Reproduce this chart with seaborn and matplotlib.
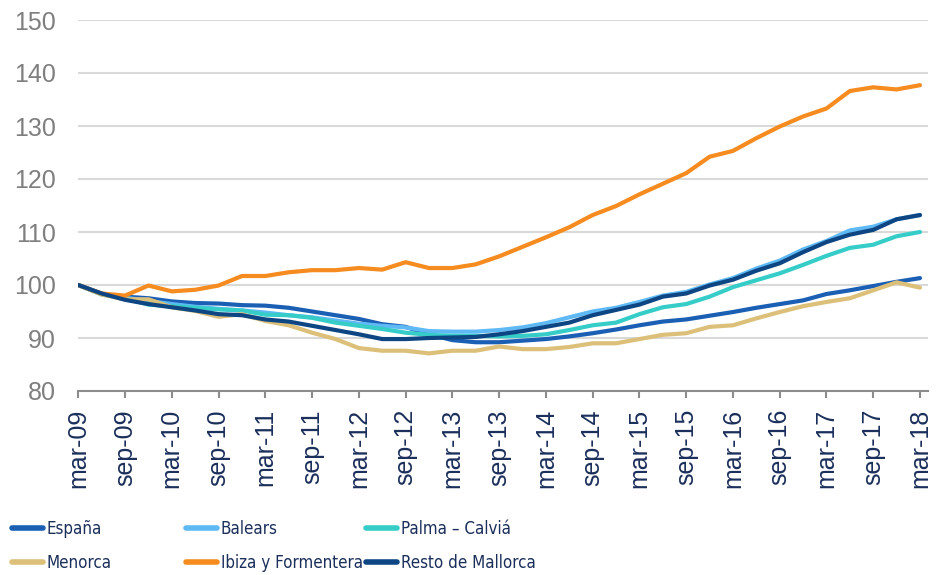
"""
Índice de precios de vivienda (mar-09 = 100) por zonas de Baleares frente a España
"""

import matplotlib
matplotlib.use("Agg")
import matplotlib.pyplot as plt
from matplotlib import font_manager
import numpy as np
import pandas as pd
import seaborn as sns

# Trimestres mar-09 .. mar-18 (37 observaciones)
meses = ["mar", "jun", "sep", "dic"]
trimestres = [f"{meses[i % 4]}-{(9 + i // 4):02d}" for i in range(37)]

espana = [100.0, 98.3, 97.8, 97.5, 96.9, 96.6, 96.5, 96.2, 96.1, 95.7, 95.0, 94.3, 93.6,
          92.6, 92.1, 90.7, 89.6, 89.2, 89.2, 89.5, 89.8, 90.3, 90.9, 91.6, 92.4, 93.1,
          93.5, 94.2, 94.9, 95.7, 96.4, 97.1, 98.3, 99.0, 99.8, 100.6, 101.3]
balears = [100.0, 98.3, 97.6, 97.0, 96.4, 95.9, 95.5, 95.2, 94.8, 94.3, 93.9, 93.3, 92.7,
           92.3, 92.0, 91.3, 91.2, 91.2, 91.5, 92.0, 92.8, 93.9, 95.0, 95.7, 96.8, 98.0,
           98.7, 100.1, 101.3, 103.1, 104.6, 106.7, 108.3, 110.3, 111.0, 112.4, 113.2]
palma = [100.0, 98.2, 97.5, 96.3, 96.0, 95.7, 95.4, 95.2, 94.4, 94.3, 93.8, 92.9, 92.3,
         91.7, 91.0, 90.6, 90.4, 90.4, 90.3, 90.4, 90.7, 91.5, 92.4, 92.9, 94.5, 95.8,
         96.4, 97.8, 99.6, 100.9, 102.2, 103.8, 105.5, 107.0, 107.6, 109.2, 110.0]
menorca = [100.0, 98.2, 97.3, 97.3, 95.8, 95.1, 94.0, 94.5, 93.2, 92.4, 91.0, 89.8, 88.1,
           87.6, 87.6, 87.1, 87.6, 87.6, 88.4, 87.9, 87.9, 88.3, 89.0, 89.0, 89.8, 90.6,
           90.9, 92.1, 92.4, 93.7, 94.9, 96.0, 96.8, 97.5, 99.0, 100.5, 99.5]
ibiza = [100.0, 98.4, 98.0, 99.9, 98.8, 99.1, 99.9, 101.7, 101.7, 102.4, 102.8, 102.8, 103.2,
         102.9, 104.3, 103.2, 103.2, 103.9, 105.4, 107.2, 109.0, 110.9, 113.2, 114.9, 117.1,
         119.1, 121.1, 124.2, 125.3, 127.7, 129.9, 131.8, 133.3, 136.6, 137.3, 136.9, 137.7]
resto = [100.0, 98.4, 97.2, 96.4, 95.8, 95.2, 94.5, 94.3, 93.5, 93.1, 92.3, 91.5, 90.7,
         89.8, 89.8, 90.0, 90.1, 90.2, 90.7, 91.3, 92.1, 92.9, 94.3, 95.3, 96.3, 97.8,
         98.4, 99.9, 101.0, 102.7, 104.1, 106.2, 108.1, 109.5, 110.4, 112.4, 113.2]

series = {
    "España": espana,
    "Balears": balears,
    "Palma – Calviá": palma,
    "Menorca": menorca,
    "Ibiza y Formentera": ibiza,
    "Resto de Mallorca": resto,
}
colores = {
    "España": "#1a5fb4",
    "Balears": "#5fb9f4",
    "Palma – Calviá": "#36cdc9",
    "Menorca": "#dcc07a",
    "Ibiza y Formentera": "#f68b1f",
    "Resto de Mallorca": "#0d4683",
}

# Formato largo para seaborn
df = pd.concat(
    [pd.DataFrame({"t": np.arange(len(v)), "indice": v, "serie": k}) for k, v in series.items()],
    ignore_index=True,
)

sns.set_style("white")
plt.rcParams["font.family"] = ["Liberation Sans", "DejaVu Sans"]

fig = plt.figure(figsize=(9.36, 5.75), dpi=100)
ax = fig.add_axes([78.3 / 936, 1 - 391 / 575, (927.7 - 78.3) / 936, (391 - 20) / 575])

sns.lineplot(data=df, x="t", y="indice", hue="serie", palette=colores,
             hue_order=list(series.keys()), linewidth=3.0, ax=ax, legend=False)

ax.set_xlim(0, 36.33)
ax.set_ylim(80, 150)
ax.set_yticks(np.arange(80, 151, 10))
ax.set_xticks(np.arange(0, 37, 2))
ax.set_xticklabels(trimestres[::2], rotation=90)
ax.set_xlabel("")
ax.set_ylabel("")

ax.yaxis.grid(True, color="#d9d9d9", linewidth=1.5)
ax.set_axisbelow(True)
for s in ["left", "top", "right"]:
    ax.spines[s].set_visible(False)
ax.spines["bottom"].set_color("#8c8c8c")
ax.spines["bottom"].set_linewidth(1.5)

ax.tick_params(axis="y", length=0, pad=16, labelsize=18, labelcolor="#7f7f7f")
ax.tick_params(axis="x", bottom=True, length=5, width=1.5, color="#8c8c8c",
               pad=8, labelsize=18, labelcolor="#1b2f5b")

# Fuente estrecha para la leyenda si existe
condensadas = [f for f in font_manager.fontManager.ttflist
               if f.name.startswith("DejaVu Sans") and "ondensed" in f.fname
               and f.weight in (400, "normal") and f.style == "normal"]
if condensadas:
    prop_leyenda = font_manager.FontProperties(fname=condensadas[0].fname, size=12.2)
else:
    prop_leyenda = font_manager.FontProperties(family=["Liberation Sans"], size=11.5)

# Leyenda en tres columnas colocadas a mano
handles = {k: plt.Line2D([], [], color=c, linewidth=4) for k, c in colores.items()}
columnas = [(["España", "Menorca"], 12), (["Balears", "Ibiza y Formentera"], 186),
            (["Palma – Calviá", "Resto de Mallorca"], 366)]
for nombres, x0 in columnas:
    fig.legend([handles[n] for n in nombres], nombres, loc="upper left",
               bbox_to_anchor=(x0 / 936, 1 - 520 / 575), frameon=False,
               borderpad=0, borderaxespad=0, handlelength=1.8, handletextpad=0.25,
               labelspacing=0.95, prop=prop_leyenda, labelcolor="#1b2f5b")

fig.savefig("out.png", dpi=100)
